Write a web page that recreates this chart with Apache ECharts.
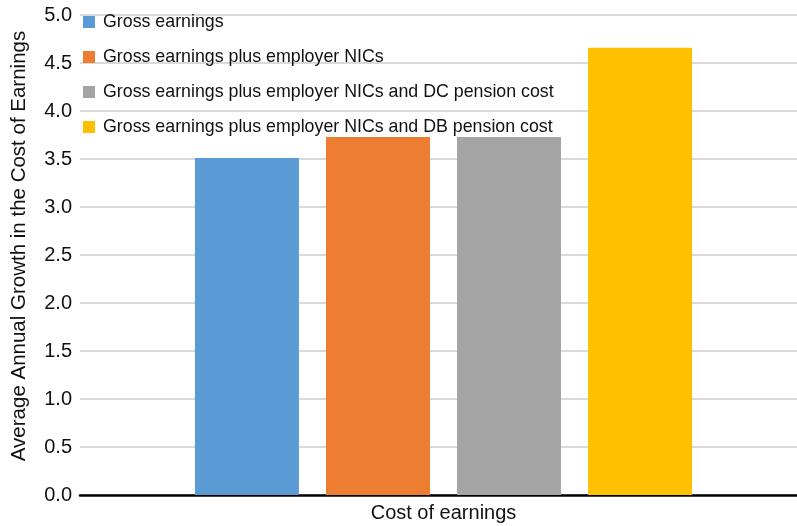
<!DOCTYPE html>
<html>
<head>
<meta charset="utf-8">
<script src="https://cdn.jsdelivr.net/npm/echarts@6/dist/echarts.min.js"></script>
<style>
html,body{margin:0;padding:0;background:#fff;}
#chart{width:797px;height:526px;}
</style>
</head>
<body>
<div id="chart"></div>
<script>
const categories = ['Cost of earnings'];
const seriesNames = [
  'Gross earnings',
  'Gross earnings plus employer NICs',
  'Gross earnings plus employer NICs and DC pension cost',
  'Gross earnings plus employer NICs and DB pension cost'
];
const grossEarnings = [3.51];
const plusNICs = [3.73];
const plusNICsDC = [3.73];
const plusNICsDB = [4.66];
const colors = ['#5B9BD5', '#ED7D31', '#A5A5A5', '#FFC000'];
const yTicks = { min: 0, max: 5, interval: 0.5 };

const values = [grossEarnings, plusNICs, plusNICsDC, plusNICsDB];
const font = 'Liberation Sans, Arial, Helvetica, sans-serif';

const chart = echarts.init(document.getElementById('chart'));
chart.setOption({
  animation: false,
  textStyle: { fontFamily: font },
  grid: { left: 80, right: -10, top: 15, bottom: 31, containLabel: false, outerBoundsMode: 'none' },
  legend: {
    orient: 'vertical',
    left: 78,
    top: 8,
    itemWidth: 12,
    itemHeight: 12,
    itemGap: 17,
    icon: 'rect',
    textStyle: { fontSize: 17.8, color: '#111', fontFamily: font, padding: [0, 0, 0, 3] },
    data: seriesNames
  },
  xAxis: {
    type: 'category',
    data: categories,
    axisLine: { lineStyle: { color: '#000', width: 2.5 } },
    axisTick: { show: false },
    axisLabel: { show: false },
    name: categories[0],
    nameLocation: 'middle',
    nameGap: 8,
    nameTextStyle: { fontSize: 20, color: '#111', fontFamily: font, verticalAlign: 'top' }
  },
  yAxis: {
    type: 'value',
    min: yTicks.min,
    max: yTicks.max,
    interval: yTicks.interval,
    axisLine: { show: false },
    axisTick: { show: false },
    axisLabel: {
      fontSize: 20,
      color: '#111',
      margin: 8,
      formatter: v => v.toFixed(1)
    },
    splitLine: { lineStyle: { color: '#D9D9D9', width: 2 } },
    name: 'Average Annual Growth in the Cost of Earnings',
    nameLocation: 'middle',
    nameGap: 50,
    nameTextStyle: { fontSize: 20.5, color: '#111', fontFamily: font, padding: [0, 0, 0, 18] }
  },
  series: seriesNames.map((n, i) => ({
    name: n,
    type: 'bar',
    data: values[i],
    barWidth: 104,
    barGap: '26%',
    itemStyle: { color: colors[i] }
  }))
});
</script>
</body>
</html>
